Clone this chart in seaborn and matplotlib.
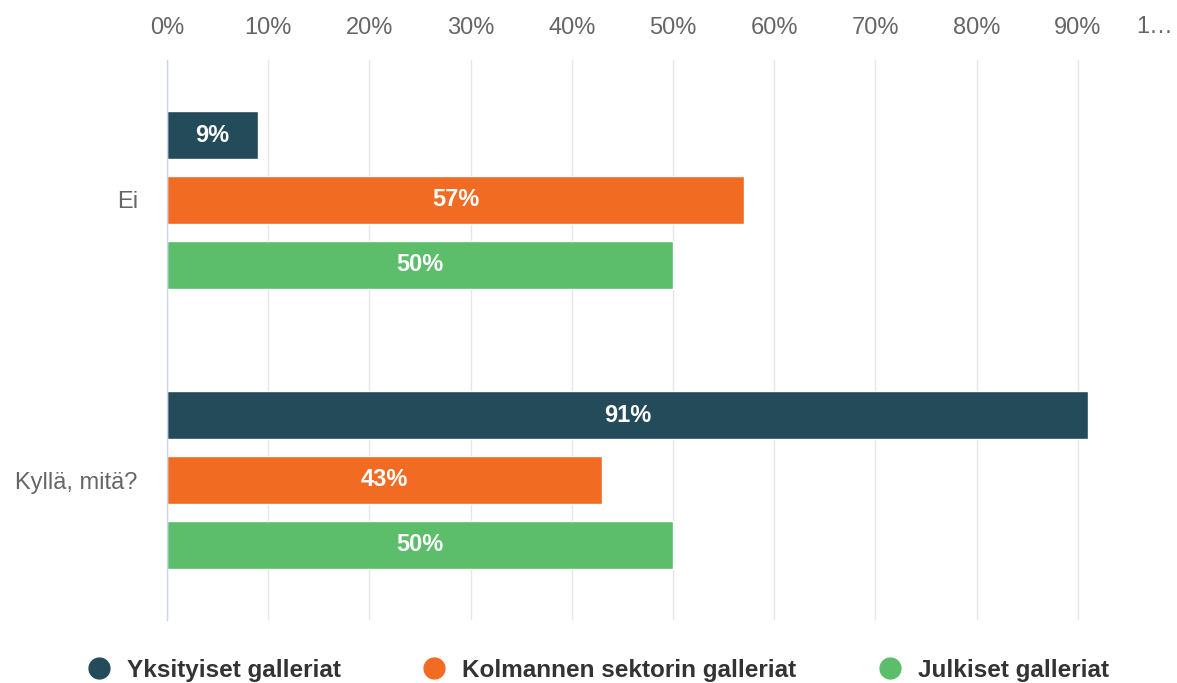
import matplotlib
matplotlib.use("Agg")
import matplotlib.pyplot as plt
from matplotlib.lines import Line2D
import pandas as pd
import seaborn as sns

# data
categories = ["Ei", "Kyllä, mitä?"]
series_names = ["Yksityiset galleriat", "Kolmannen sektorin galleriat", "Julkiset galleriat"]
yksityiset = [9, 91]
kolmannen = [57, 43]
julkiset = [50, 50]
tick_values = [0, 10, 20, 30, 40, 50, 60, 70, 80, 90, 100]
colors = ["#234b5a", "#f26b22", "#5cbd6b"]

rows = []
for name, vals in zip(series_names, [yksityiset, kolmannen, julkiset]):
    for cat, v in zip(categories, vals):
        rows.append({"kategoria": cat, "sarja": name, "arvo": v})
df = pd.DataFrame(rows)

sns.set_theme(style="white")
plt.rcParams["font.family"] = ["Liberation Sans", "DejaVu Sans"]

fig = plt.figure(figsize=(11.77, 6.83), dpi=100)
ax = fig.add_axes([167 / 1177, 1 - 620 / 683, 1012 / 1177, 560 / 683])

sns.barplot(data=df, y="kategoria", x="arvo", hue="sarja", order=categories,
            hue_order=series_names, palette=colors, orient="h",
            width=0.696, gap=0.26, legend=False, ax=ax, saturation=1)

for cont in ax.containers:
    ax.bar_label(cont, labels=[f"{int(round(b.get_width()))}%" for b in cont],
                 label_type="center", color="white", fontsize=17, fontweight="bold")

ax.set_xlim(0, 100)
ax.set_ylim(1.5, -0.5)
ax.set_xticks(tick_values)
ax.set_xticklabels([f"{t}%" for t in tick_values[:-1]] + [""])
ax.xaxis.tick_top()
ax.tick_params(axis="x", length=0, pad=15, labelsize=17, labelcolor="#666666")
ax.tick_params(axis="y", length=0, pad=21, labelsize=17, labelcolor="#666666")
ax.set_xlabel("")
ax.set_ylabel("")
ax.grid(axis="x", color="#e6e6e6", linewidth=1)
ax.set_axisbelow(True)
for s in ["top", "right", "bottom"]:
    ax.spines[s].set_visible(False)
ax.spines["left"].set_color("#ccd6eb")
ax.spines["left"].set_linewidth(1)

# truncated last tick label
fig.text(0.997, 1 - 27 / 683, "1…", ha="right", va="center", fontsize=17, color="#666666")

handles = [Line2D([0], [0], marker="o", linestyle="", markersize=15,
                  markerfacecolor=c, markeredgecolor=c) for c in colors]
fig.legend(handles, series_names, loc="center", bbox_to_anchor=(0.508, 1 - 670 / 683),
           ncol=3, frameon=False, handlelength=1, handletextpad=0.65,
           columnspacing=3.35, prop={"size": 17.5, "weight": "bold"}, labelcolor="#333333")

fig.savefig("out.png", dpi=100)
